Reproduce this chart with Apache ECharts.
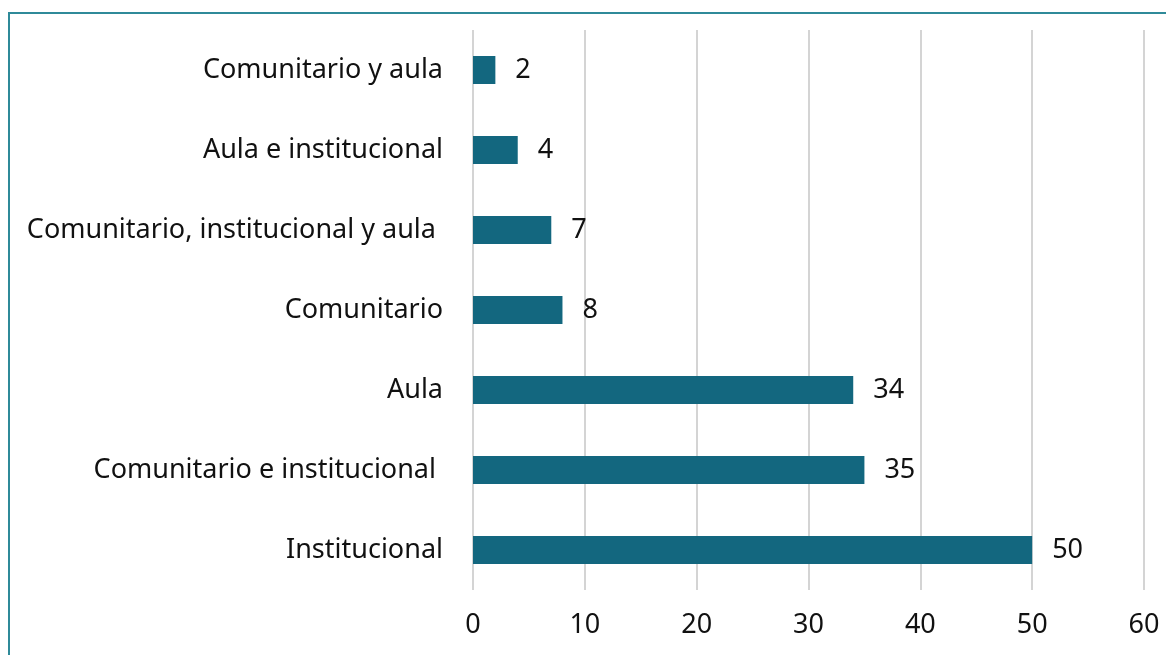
<!DOCTYPE html>
<html>
<head>
<meta charset="utf-8">
<script src="https://cdn.jsdelivr.net/npm/echarts@6/dist/echarts.min.js"></script>
<style>
  html, body { margin:0; padding:0; background:#fff; }
  #frame { position:absolute; left:8px; top:12px; width:1200px; height:700px; border:2px solid #2f8a99; box-sizing:border-box; }
  #chart { position:absolute; left:0; top:0; width:1166px; height:655px; }
</style>
</head>
<body>
<div id="frame"></div>
<div id="chart"></div>
<script>
// ======== データ ========
const categories = ['Institucional', 'Comunitario e institucional ', 'Aula', 'Comunitario',
  'Comunitario, institucional y aula ', 'Aula e institucional', 'Comunitario y aula'];
const values = [50, 35, 34, 8, 7, 4, 2];
const xTicks = { min:0, max:60, interval:10 };

const chart = echarts.init(document.getElementById('chart'));
const font = "'Noto Sans', sans-serif";
chart.setOption({
  animation:false,
  grid:{ left:473, right:22, top:30, bottom:65, containLabel:false },
  xAxis:{ type:'value', min:xTicks.min, max:xTicks.max, interval:xTicks.interval,
    axisLine:{ show:false }, axisTick:{ show:false },
    splitLine:{ show:true, lineStyle:{ color:'#d4d4d4', width:2 } },
    axisLabel:{ fontSize:27, color:'#111', fontFamily:font, margin:22 } },
  yAxis:{ type:'category', data:categories,
    axisLine:{ show:false }, axisTick:{ show:false },
    axisLabel:{ fontSize:27, color:'#111', fontFamily:font, margin:30, padding:[4,0,0,0] } },
  series:[{
    type:'bar', data:values, barWidth:28,
    itemStyle:{ color:'#13677f' },
    label:{ show:true, position:'right', distance:20, fontSize:27, color:'#111', fontFamily:font, padding:[4,0,0,0] }
  }]
});
</script>
</body>
</html>
